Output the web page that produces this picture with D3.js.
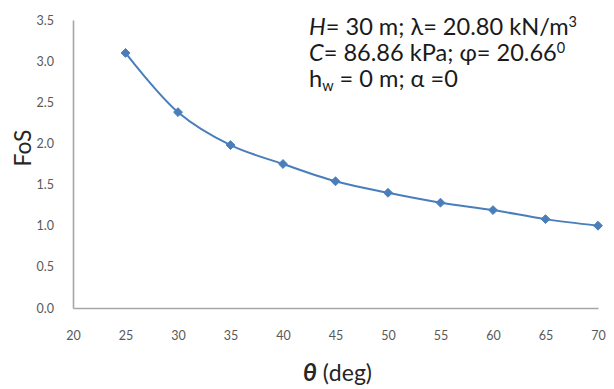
<!DOCTYPE html>
<html>
<head>
<meta charset="utf-8">
<script src="https://cdn.jsdelivr.net/npm/d3@7"></script>
<style>
  html, body { margin: 0; padding: 0; background: #fff; }
  svg { display: block; }
  text { font-family: Lato, "Open Sans", sans-serif; }
</style>
</head>
<body>
<svg id="chart" width="614" height="389"></svg>
<script>
// Slope angle θ (deg) and the corresponding factor of safety
const theta = [25, 30, 35, 40, 45, 50, 55, 60, 65, 70];
const fos = [3.10, 2.38, 1.98, 1.75, 1.54, 1.40, 1.28, 1.19, 1.08, 1.00];
const xTicks = [20, 25, 30, 35, 40, 45, 50, 55, 60, 65, 70];
const yTicks = [0, 0.5, 1.0, 1.5, 2.0, 2.5, 3.0, 3.5];

const svg = d3.select("#chart");
const margin = { left: 73, right: 16, top: 20, bottom: 81 };
const W = 614, H = 389;

const x = d3.scaleLinear().domain([20, 70]).range([margin.left, W - margin.right]);
const y = d3.scaleLinear().domain([0, 3.5]).range([H - margin.bottom, margin.top]);

const axisColor = "#a6a6a6";
const labelColor = "#595959";

// Y axis
const yAxis = svg.append("g")
  .attr("transform", `translate(${margin.left},0)`)
  .call(d3.axisLeft(y).tickValues(yTicks).tickSize(0).tickPadding(19).tickFormat(d3.format(".1f")));
yAxis.select(".domain").attr("stroke", axisColor).attr("stroke-width", 1.6);
yAxis.selectAll("text").attr("fill", labelColor).style("font-size", "12.5px");

// X axis
const xAxis = svg.append("g")
  .attr("transform", `translate(0,${H - margin.bottom})`)
  .call(d3.axisBottom(x).tickValues(xTicks).tickSize(0).tickPadding(23));
xAxis.select(".domain").attr("stroke", axisColor).attr("stroke-width", 1.6);
xAxis.selectAll("text").attr("fill", labelColor).style("font-size", "12.5px");

// Scale a text element's font so its rendered width equals the given span
function fitWidth(sel, span) {
  const base = parseFloat(sel.style("font-size"));
  const w = sel.node().getComputedTextLength();
  const k = span / w;
  sel.style("font-size", (base * k) + "px");
  sel.selectAll("tspan").each(function () {
    const t = d3.select(this);
    const fs = this.style.fontSize;
    if (fs) t.style("font-size", (parseFloat(fs) * k) + "px");
  });
}

// Axis titles
const yt = svg.append("text")
  .attr("transform", `translate(31,148) rotate(-90)`)
  .attr("text-anchor", "middle")
  .style("font-size", "17px")
  .attr("fill", "#262626")
  .text("FoS");
fitWidth(yt, 37);

const xt = svg.append("text")
  .attr("x", (margin.left + W - margin.right) / 2 + 2)
  .attr("y", 381)
  .attr("text-anchor", "middle")
  .style("font-size", "16px")
  .attr("fill", "#262626");
xt.append("tspan").attr("font-weight", "bold").attr("font-style", "italic").style("font-size", "17px").text("θ");
xt.append("tspan").text(" (deg)");
fitWidth(xt, 69);

// Data line and markers
const line = d3.line()
  .x((d, i) => x(theta[i]))
  .y(d => y(d))
  .curve(d3.curveCatmullRom.alpha(0.5));

const blue = "#4a7ebb";
svg.append("path")
  .datum(fos)
  .attr("d", line)
  .attr("fill", "none")
  .attr("stroke", blue)
  .attr("stroke-width", 2);

svg.selectAll(".pt")
  .data(fos)
  .enter().append("path")
  .attr("class", "pt")
  .attr("transform", (d, i) => `translate(${x(theta[i])},${y(d)})`)
  .attr("d", d3.symbol(d3.symbolDiamond2, 50))
  .attr("fill", blue)
  .attr("stroke", blue)
  .attr("stroke-width", 1);

// Model parameters annotation
const ann = svg.append("g").attr("fill", "#1a1a1a");
const big = "19.5px", small = "12px";
const l1 = ann.append("text").attr("x", 309).attr("y", 35).style("font-size", big);
l1.append("tspan").attr("font-style", "italic").text("H");
l1.append("tspan").text("= 30 m; λ= 20.80 kN/m");
l1.append("tspan").attr("dy", -8).style("font-size", small).text("3");

const l2 = ann.append("text").attr("x", 309).attr("y", 61).style("font-size", big);
l2.append("tspan").attr("font-style", "italic").text("C");
l2.append("tspan").text("= 86.86 kPa; φ= 20.66");
l2.append("tspan").attr("dy", -8).style("font-size", small).text("0");

const l3 = ann.append("text").attr("x", 309).attr("y", 87).style("font-size", big);
l3.append("tspan").text("h");
l3.append("tspan").attr("dy", 4).style("font-size", small).text("w");
l3.append("tspan").attr("dy", -4).text(" = 0 m; α =0");

// Size the annotation so the first line spans its full width
const k = 268 / l1.node().getComputedTextLength();
[l1, l2, l3].forEach(t => {
  t.style("font-size", (19.5 * k) + "px");
  t.selectAll("tspan").filter(function () { return this.style.fontSize; })
    .style("font-size", (12 * k) + "px");
});
</script>
</body>
</html>
